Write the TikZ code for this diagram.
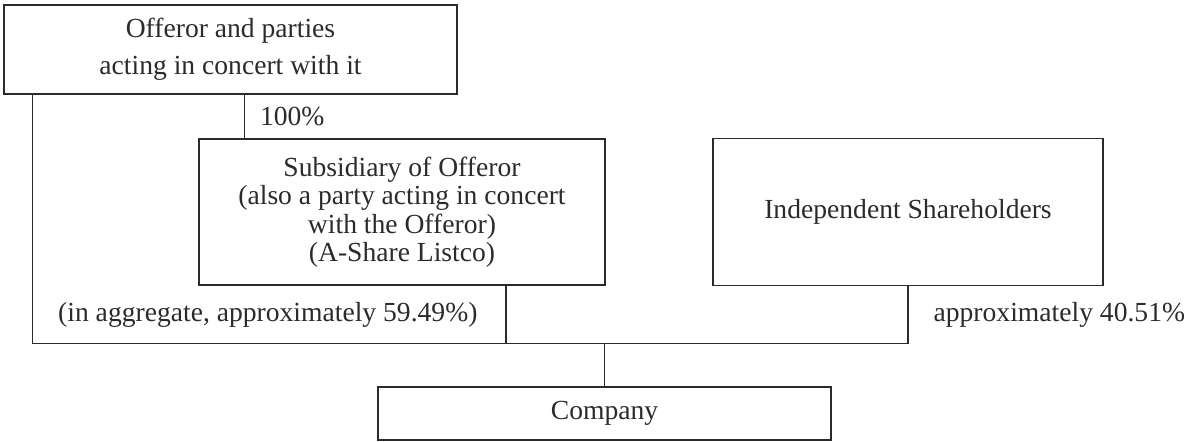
\documentclass[tikz,border=0pt]{standalone}
\usepackage{fontspec}
\setmainfont{Liberation Serif}
\usetikzlibrary{positioning}
\definecolor{ink}{HTML}{2B2B2B}

\begin{document}
\begin{tikzpicture}[on grid,color=ink,line width=0.6pt,
    box/.style={draw,rectangle,align=center,inner sep=0pt,font=\fontsize{13.8}{14.25}\selectfont},
    pct/.style={inner sep=0pt,font=\fontsize{13.8}{14.25}\selectfont}]
   \useasboundingbox (0,0) rectangle (594.5pt,-220.5pt);
   \node[box,minimum width=226.5pt,minimum height=44.5pt] (top) at (115.25pt,-24.75pt) {Offeror and parties\\[4.25pt]acting in concert with it};
   \node[box,minimum width=203pt,minimum height=73pt] (sub) [below right=81.25pt and 85.75pt of top] {Subsidiary of Offeror\\(also a party acting in concert\\with the Offeror)\\(A-Share Listco)};
   \node[box,minimum width=195pt,minimum height=73.5pt] (ind) [right=253pt of sub] {Independent Shareholders};
   \node[box,minimum width=226.5pt,minimum height=26.5pt] (co) [below right=100.75pt and 101.25pt of sub] {Company};
   \coordinate (bus) at ([yshift=21.5pt]co.north);
    \draw ([xshift=14.5pt]top.south west) |- (bus);
    \draw ([xshift=23pt]sub.north west) -- node[pct,right=7.5pt] {100\%} ([xshift=23pt]sub.north west |- top.south);
    \draw ([xshift=52pt]sub.south) -- node[pct,left=14pt] {(in aggregate, approximately 59.49\%)} ([xshift=52pt]sub.south |- bus);
    \draw (ind.south) -- node[pct,right=12.5pt] {approximately 40.51\%} (ind.south |- bus) -- (bus);
    \draw (bus) -- (co.north);
\end{tikzpicture}
\end{document}
